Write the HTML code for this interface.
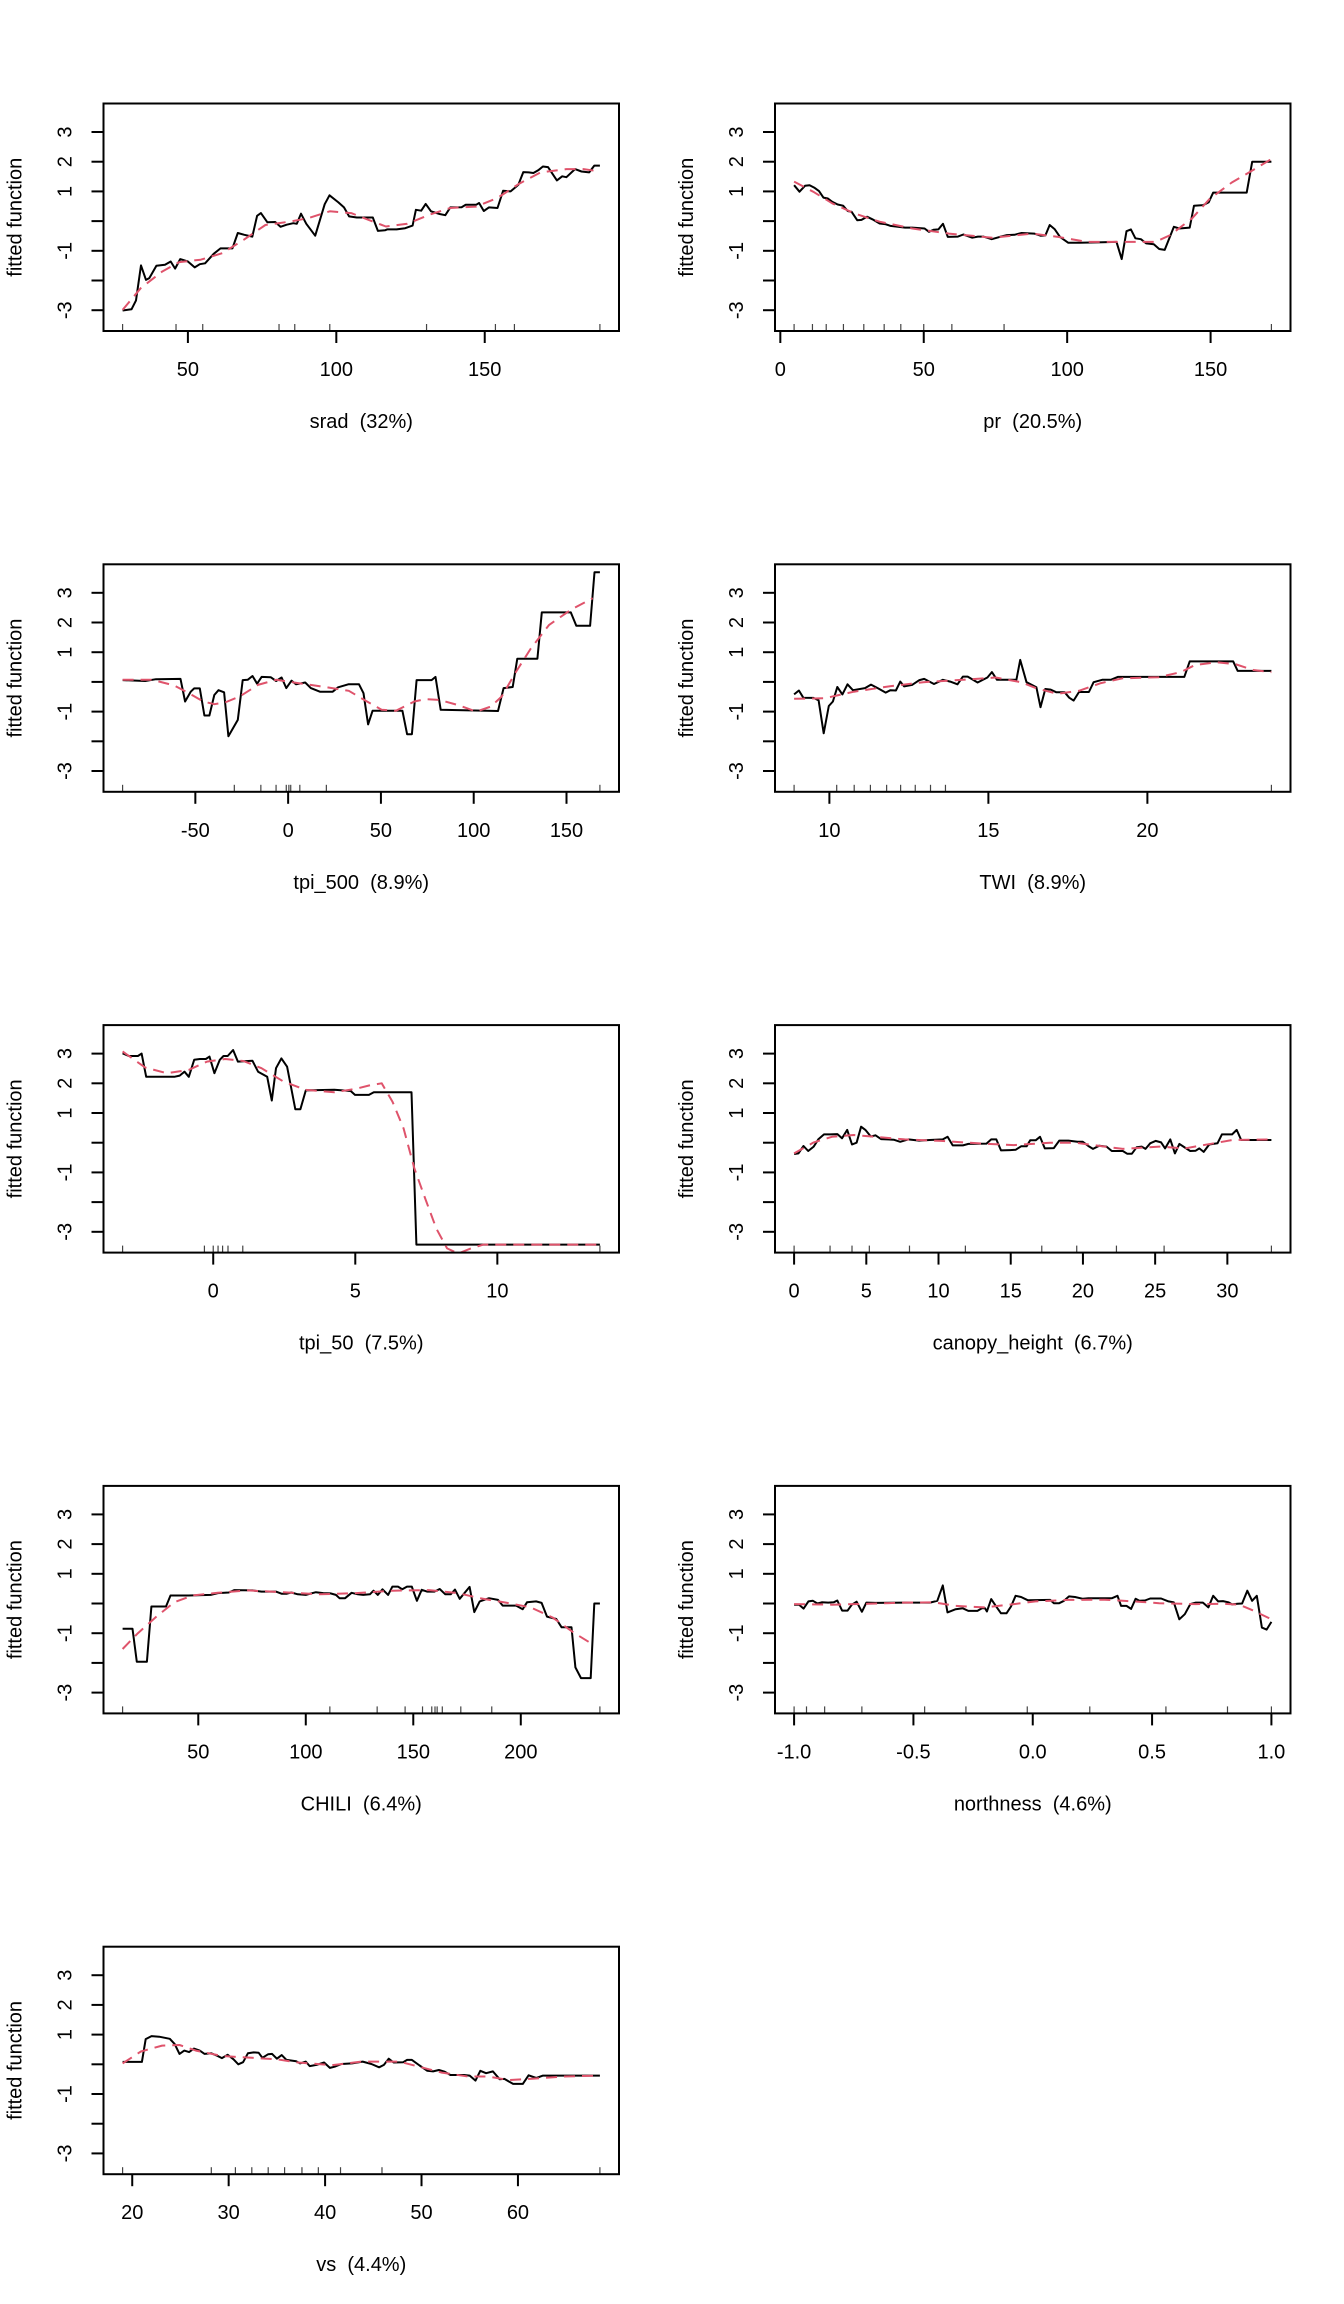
<!DOCTYPE html>
<html><head><meta charset="utf-8"><title>Partial dependence plots</title>
<style>
html,body{margin:0;padding:0;background:#fff;}
svg{display:block;font-family:"Liberation Sans",Arial,sans-serif;}
text{fill:#000;font-size:20px;}
</style></head>
<body>
<svg id="chart" width="1344" height="2304" viewBox="0 0 1344 2304" xmlns="http://www.w3.org/2000/svg">
<rect x="0" y="0" width="1344" height="2304" fill="#fff"/>
</svg>
<script>
// ---------- data ----------
const sradX=[28,31,32.5,34.2,35.9,37,39.4,42.3,44.2,45.7,47.4,50,52.3,54,55.8,58.7,61,65,66.8,69,71.7,73.3,74.6,76.8,79.4,81.2,83.3,85.5,86.7,88.1,89.9,92.9,96.1,97.7,100.7,102.6,104.3,106.9,112.3,114,116.4,117.1,120.3,123.2,125.7,126.8,128.6,130.1,131.9,134.8,136.7,138.4,142.2,143.6,147.1,148.1,149.7,151.4,154.3,156.2,158.7,161.3,163,164.8,166.4,168,169.6,171.3,174.3,176.1,177.5,180.4,182.6,185.2,186.9,188.8];
const sradY=[-3.01,-2.97,-2.67,-1.49,-1.98,-1.92,-1.5,-1.47,-1.36,-1.6,-1.28,-1.36,-1.56,-1.45,-1.42,-1.1,-0.92,-0.92,-0.4,-0.46,-0.52,0.18,0.27,-0.04,-0.03,-0.19,-0.12,-0.07,-0.09,0.25,-0.09,-0.49,0.57,0.87,0.63,0.46,0.16,0.12,0.12,-0.33,-0.31,-0.28,-0.28,-0.24,-0.15,0.38,0.35,0.58,0.33,0.24,0.2,0.46,0.47,0.55,0.55,0.61,0.34,0.46,0.44,1.02,1.0,1.22,1.65,1.64,1.62,1.71,1.84,1.82,1.37,1.51,1.48,1.75,1.67,1.64,1.87,1.87];
const sradSmX=[28,34.1,41.3,47.1,54.3,61.6,68.8,76.1,84.8,90.6,97.8,105,110.9,116.7,123.9,131.2,138.4,147.1,154.3,161.6,168.8,177.5,183.3,188.8];
const sradSmY=[-2.99,-2.26,-1.7,-1.38,-1.3,-1.08,-0.63,-0.13,-0.01,0.1,0.33,0.27,0.04,-0.18,-0.09,0.21,0.44,0.49,0.78,1.26,1.64,1.75,1.75,1.67];
const sradRug=[28,46,55,80.7,86,97.8,130.4,153.6,160,188.8];
const sradTicks=[50,100,150];
const sradTickLabels=["50","100","150"];

const prX=[4.8,6.7,8.6,10.2,11.8,13.5,15,16.6,18.1,20,21.9,23.5,24.9,26.8,28.3,30.2,32.1,34.6,36.5,38.4,41,43.5,46,50.3,51.8,53.5,55.1,56.7,58.4,61.9,63.8,66.9,68.9,70.8,73.7,76.5,79,81.6,84.1,88.5,90.7,92.4,93.9,95.6,97.5,100.4,104.2,112.4,117.2,119,120.7,122.2,123.8,125.7,127.6,130.2,132.1,134,137.2,139.1,142.7,144.2,147.4,149.3,150.9,162.6,164.5,171.2];
const prY=[1.21,0.99,1.19,1.21,1.13,1.01,0.79,0.76,0.65,0.56,0.52,0.34,0.31,0.03,0.04,0.15,0.06,-0.08,-0.1,-0.16,-0.19,-0.22,-0.22,-0.25,-0.36,-0.29,-0.28,-0.09,-0.53,-0.52,-0.45,-0.56,-0.52,-0.52,-0.61,-0.53,-0.47,-0.46,-0.4,-0.42,-0.49,-0.48,-0.13,-0.27,-0.53,-0.73,-0.73,-0.71,-0.7,-1.28,-0.34,-0.28,-0.58,-0.61,-0.75,-0.78,-0.94,-0.97,-0.19,-0.25,-0.22,0.52,0.54,0.63,0.96,0.96,2.0,2.0];
const prSmX=[4.8,11.8,18.1,25.8,34.6,46,58.8,73.9,87.9,96.8,107,118,130.8,135.9,143.5,149.8,157.4,163.8,171.2];
const prSmY=[1.33,0.97,0.6,0.26,-0.02,-0.25,-0.42,-0.56,-0.42,-0.53,-0.7,-0.7,-0.7,-0.47,0.09,0.76,1.3,1.66,2.09];
const prRug=[4.8,11.2,16,22,29.1,36.2,42,50,59.8,78,171.2];
const prTicks=[0,50,100,150];
const prTickLabels=["0","50","100","150"];

const tpi500X=[-89.2,-77,-71.2,-58,-55.5,-52.5,-50.6,-47.6,-45.1,-42.4,-39.8,-37.5,-34.5,-32.2,-27.1,-24.5,-21.8,-19.2,-16.7,-14.3,-9.4,-6.5,-3.5,-1,1.8,4.3,9.2,12.2,17.1,24,26.9,32.4,38.2,40.6,43.1,45.5,61.6,64.1,66.7,69.2,77.3,79.4,82.2,113.1,116.1,121,123.5,134.3,136.7,152.3,155.3,162.7,165.1,168];
const tpi500Y=[0.06,0.03,0.09,0.1,-0.66,-0.33,-0.22,-0.22,-1.13,-1.13,-0.44,-0.28,-0.35,-1.83,-1.28,0.06,0.07,0.2,-0.06,0.17,0.16,0.03,0.15,-0.21,0.04,-0.08,-0.02,-0.21,-0.33,-0.33,-0.18,-0.08,-0.08,-0.38,-1.43,-0.97,-0.97,-1.76,-1.76,0.06,0.06,0.17,-0.94,-0.98,-0.21,-0.17,0.78,0.78,2.34,2.34,1.89,1.89,3.69,3.69];
const tpi500SmX=[-89.2,-73.1,-61.4,-53.5,-45.7,-39.8,-33.9,-26.1,-16.3,-6.5,5.3,21,32.7,42.5,50.4,58.2,68,73.9,81.8,91.6,101.4,109.2,115.1,122.9,130.8,140.6,152.4,164.1];
const tpi500SmY=[0.07,0.07,-0.12,-0.38,-0.66,-0.75,-0.69,-0.49,-0.1,0.07,-0.04,-0.18,-0.3,-0.66,-0.94,-0.97,-0.66,-0.58,-0.61,-0.78,-1.0,-0.83,-0.49,0.35,1.13,1.92,2.43,2.82];
const tpi500Rug=[-89.2,-29,-14.7,-6.5,-1,0.4,1.4,6.3,20.6,168];
const tpi500Ticks=[-50,0,50,100,150];
const tpi500TickLabels=["-50","0","50","100","150"];

const twiX=[8.89,9.04,9.18,9.5,9.66,9.82,9.98,10.11,10.25,10.41,10.57,10.74,11.12,11.31,11.52,11.77,11.92,12.09,12.23,12.35,12.6,12.83,12.98,13.29,13.57,13.8,14.03,14.2,14.35,14.66,14.97,15.11,15.27,15.88,16,16.2,16.51,16.64,16.79,16.96,17.14,17.4,17.54,17.68,17.85,18.16,18.31,18.58,18.85,19.07,21.16,21.33,22.7,22.84,23.9];
const twiY=[-0.42,-0.29,-0.53,-0.54,-0.62,-1.73,-0.81,-0.66,-0.17,-0.42,-0.08,-0.28,-0.21,-0.09,-0.21,-0.36,-0.28,-0.29,0.01,-0.15,-0.1,0.06,0.1,-0.07,0.07,0.01,-0.08,0.18,0.18,-0.02,0.15,0.33,0.07,0.07,0.74,-0.01,-0.18,-0.85,-0.24,-0.26,-0.35,-0.35,-0.53,-0.63,-0.34,-0.34,-0.01,0.07,0.07,0.17,0.17,0.69,0.69,0.37,0.37];
const twiSmX=[8.89,9.86,10.77,11.8,12.95,14.2,15.23,16.03,16.49,17.17,17.85,18.54,19.22,20.36,21.05,21.5,22.19,22.76,23.33,23.9];
const twiSmY=[-0.57,-0.55,-0.33,-0.16,-0.01,0.07,0.15,-0.01,-0.21,-0.4,-0.3,-0.04,0.12,0.16,0.33,0.57,0.66,0.6,0.4,0.33];
const twiRug=[8.89,10.23,10.78,11.29,11.8,12.24,12.7,13.18,13.65,23.9];
const twiTicks=[10,15,20];
const twiTickLabels=["10","15","20"];

const tpi50X=[-3.19,-2.97,-2.65,-2.52,-2.36,-1.37,-1.18,-1.01,-0.86,-0.67,-0.47,-0.26,-0.13,0.04,0.23,0.36,0.51,0.7,0.87,1.38,1.58,1.9,2.06,2.21,2.4,2.6,2.89,3.07,3.26,4.26,4.84,4.99,5.48,5.65,6.98,7.15,13.61];
const tpi50Y=[3.01,2.92,2.92,3.0,2.22,2.22,2.26,2.39,2.22,2.79,2.82,2.82,2.9,2.34,2.79,2.92,2.92,3.12,2.73,2.76,2.39,2.22,1.42,2.51,2.84,2.56,1.13,1.13,1.76,1.78,1.74,1.61,1.61,1.7,1.7,-3.43,-3.43];
const tpi50SmX=[-3.19,-2.39,-1.63,-0.86,-0.22,0.42,1.06,1.7,2.47,3.24,4.26,4.99,5.54,5.93,6.31,6.7,7.08,7.46,7.85,8.23,8.62,9.07,9.51,13.61];
const tpi50SmY=[3.07,2.53,2.34,2.45,2.73,2.82,2.75,2.51,2.06,1.78,1.7,1.81,1.94,2.0,1.38,0.48,-0.87,-1.88,-2.89,-3.56,-3.73,-3.56,-3.43,-3.43];
const tpi50Rug=[-3.19,-0.31,0,0.17,0.33,0.52,1.04,13.61];
const tpi50Ticks=[0,5,10];
const tpi50TickLabels=["0","5","10"];

const canopyX=[0,0.3,0.65,0.98,1.36,1.69,2.07,2.49,3,3.32,3.68,4.01,4.33,4.64,4.94,5.31,5.64,6.02,6.9,7.35,7.91,8.66,9.4,10.3,10.63,10.98,11.69,12.07,13.32,13.65,14,14.33,14.96,15.34,15.72,16.1,16.35,16.73,17.03,17.36,17.98,18.36,18.99,19.62,19.99,20.37,20.7,21.13,21.63,22,22.76,23.06,23.39,23.72,24.07,24.33,24.66,25.03,25.41,25.69,26.05,26.37,26.68,27.05,27.43,27.81,28.06,28.36,28.74,29.32,29.62,30.33,30.65,30.96,33.05];
const canopyY=[-0.38,-0.36,-0.11,-0.28,-0.13,0.12,0.28,0.28,0.29,0.15,0.43,-0.06,0,0.54,0.43,0.21,0.25,0.12,0.1,0.03,0.11,0.07,0.09,0.11,0.2,-0.09,-0.09,-0.04,-0.03,0.11,0.11,-0.26,-0.25,-0.24,-0.12,-0.12,0.08,0.08,0.2,-0.19,-0.18,0.07,0.07,0.03,0.03,-0.11,-0.21,-0.1,-0.13,-0.28,-0.28,-0.37,-0.37,-0.15,-0.13,-0.21,-0.02,0.06,0.01,-0.19,0.11,-0.36,-0.04,-0.16,-0.28,-0.27,-0.19,-0.31,-0.06,-0.02,0.28,0.28,0.43,0.09,0.09];
const canopySmX=[0,1.36,2.62,4.13,5.64,7.66,10.18,12.7,15.21,17.73,19.5,21.51,22.77,25.29,27.05,29.07,30.33,33.05];
const canopySmY=[-0.36,0.01,0.2,0.26,0.2,0.11,0.06,-0.02,-0.08,0,0,-0.13,-0.21,-0.13,-0.19,-0.02,0.09,0.11];
const canopyRug=[0,2.49,4.01,5.21,7.99,11.86,17.15,19.57,22.32,25.62,33.05];
const canopyTicks=[0,5,10,15,20,25,30];
const canopyTickLabels=["0","5","10","15","20","25","30"];

const chiliX=[14.8,19.4,21.4,26.1,28.2,35,37.1,45.6,55.8,59.1,64.2,66.8,75.2,79.4,86.1,88.7,91.2,93.2,96.3,100,104.7,108.1,111.5,114,115.7,118.3,121.3,124.2,126.7,129.8,131.5,133.5,135.7,138.3,140.3,142.9,144.9,147.1,149.3,151.7,153.9,156.4,159.8,162.3,164.9,167.4,169.4,171.6,176.2,178.4,180.9,185.2,189.4,191.6,197.8,200.9,202.9,207.1,209.7,212.2,216.5,219,223.6,225.4,228,232.5,234.2,236.8];
const chiliY=[-0.85,-0.85,-1.96,-1.96,-0.1,-0.1,0.27,0.27,0.29,0.35,0.37,0.45,0.44,0.4,0.4,0.33,0.33,0.37,0.31,0.29,0.38,0.35,0.34,0.29,0.18,0.18,0.36,0.31,0.29,0.31,0.43,0.29,0.48,0.29,0.57,0.57,0.48,0.57,0.57,0.09,0.46,0.4,0.4,0.49,0.31,0.31,0.47,0.16,0.56,-0.29,0.07,0.18,0.12,-0.07,-0.07,-0.19,0.04,0.07,0.02,-0.44,-0.52,-0.8,-0.8,-2.15,-2.51,-2.51,0,0];
const chiliSmX=[14.8,21.9,30.4,38.8,47.3,59.1,72.7,89.6,106.4,123.4,140.3,157.2,170.8,180.9,194.5,204.6,214.8,225,233.8];
const chiliSmY=[-1.53,-1.0,-0.45,0.04,0.27,0.36,0.44,0.38,0.31,0.35,0.43,0.45,0.35,0.18,0.01,-0.13,-0.47,-1.0,-1.39];
const chiliRug=[14.8,111.2,133.2,146.2,154.3,158.6,160.1,161.1,163.5,172.1,186.5,236.8];
const chiliTicks=[50,100,150,200];
const chiliTickLabels=["50","100","150","200"];

const northX=[-1,-0.979,-0.96,-0.94,-0.921,-0.902,-0.884,-0.857,-0.834,-0.819,-0.799,-0.776,-0.758,-0.738,-0.716,-0.697,-0.659,-0.537,-0.43,-0.4,-0.377,-0.357,-0.323,-0.293,-0.27,-0.232,-0.213,-0.2,-0.192,-0.174,-0.155,-0.133,-0.11,-0.091,-0.072,-0.049,-0.021,0.073,0.088,0.111,0.131,0.152,0.177,0.21,0.233,0.332,0.355,0.37,0.393,0.412,0.431,0.447,0.47,0.492,0.538,0.569,0.591,0.614,0.637,0.66,0.683,0.713,0.736,0.756,0.777,0.797,0.82,0.835,0.858,0.877,0.899,0.919,0.939,0.96,0.98,1];
const northY=[-0.04,-0.04,-0.17,0.07,0.09,0,0.04,0.03,0.04,0.1,-0.24,-0.24,-0.04,0.06,-0.28,0.03,0.02,0.03,0.03,0.09,0.61,-0.3,-0.19,-0.16,-0.25,-0.25,-0.16,-0.16,-0.27,0.15,-0.08,-0.33,-0.33,-0.1,0.26,0.22,0.11,0.12,0.01,0.01,0.09,0.24,0.22,0.16,0.18,0.18,0.26,-0.08,-0.08,-0.18,0.16,0.09,0.1,0.17,0.17,0.07,0.04,-0.53,-0.36,-0.02,0.03,0.03,-0.13,0.26,0.07,0.08,0.04,-0.03,-0.01,0,0.43,0.09,0.26,-0.81,-0.88,-0.62];
const northSmX=[-1,-0.841,-0.689,-0.537,-0.415,-0.323,-0.2,-0.079,0.012,0.149,0.302,0.424,0.53,0.683,0.805,0.866,0.927,1.0];
const northSmY=[-0.02,-0.04,-0.01,0.03,0.04,-0.08,-0.13,-0.02,0.07,0.12,0.13,0.07,0.01,-0.02,-0.01,-0.04,-0.25,-0.53];
const northRug=[-1,-0.948,-0.872,-0.716,-0.453,-0.28,-0.023,0.239,0.558,0.816,1.0];
const northTicks=[-1,-0.5,0,0.5,1];
const northTickLabels=["-1.0","-0.5","0.0","0.5","1.0"];

const vsX=[19,21,21.4,22,22.8,23.9,24.4,24.9,25.4,25.9,26.4,27,27.5,28.2,28.8,29.3,29.9,30.5,31,31.5,32,32.6,33.1,33.5,34.1,34.5,35,35.5,36,37,37.4,38,38.4,39.1,39.9,40.5,41,41.7,42.8,43.9,44.8,45.6,46.1,46.6,47.1,48.1,48.5,49,49.8,50.6,51.2,51.8,52.4,53,54.4,55,55.6,56.1,56.7,57.4,58.1,58.6,59.5,60.5,61.1,61.9,62.6,68.5];
const vsY=[0.08,0.08,0.85,0.95,0.93,0.86,0.68,0.35,0.46,0.41,0.53,0.46,0.35,0.37,0.29,0.21,0.32,0.17,0,0.07,0.37,0.4,0.39,0.22,0.34,0.35,0.19,0.31,0.15,0.1,0.03,0.09,-0.06,-0.02,0.06,-0.12,-0.08,0.01,0.03,0.09,0.01,-0.1,-0.02,0.19,0.06,0.07,0.15,0.15,-0.04,-0.22,-0.24,-0.19,-0.25,-0.36,-0.36,-0.38,-0.55,-0.22,-0.3,-0.24,-0.5,-0.49,-0.66,-0.66,-0.37,-0.46,-0.38,-0.38];
const vsSmX=[19,20.9,23.1,24.9,26.6,29.3,32.4,35,37.2,40.7,43.8,47.7,49.5,52.1,54.8,56.9,59.1,61.7,64.8,68.5];
const vsSmY=[0.03,0.43,0.63,0.65,0.46,0.28,0.22,0.17,0.06,-0.03,0.09,0.09,-0.06,-0.28,-0.41,-0.41,-0.53,-0.48,-0.41,-0.38];
const vsRug=[19,28.2,30.7,32.4,34.1,35.8,37.6,39.3,41.6,45.9,68.5];
const vsTicks=[20,30,40,50,60];
const vsTickLabels=["20","30","40","50","60"];

const xLabels=["srad  (32%)","pr  (20.5%)","tpi_500  (8.9%)","TWI  (8.9%)","tpi_50  (7.5%)","canopy_height  (6.7%)","CHILI  (6.4%)","northness  (4.6%)","vs  (4.4%)"];
const yTicks=[3,2,1,0,-1,-2,-3];
const yTickLabels=["3","2","1","","-1","","-3"];

// ---------- drawing ----------
const panels=[
 {key:"srad",x:sradX,y:sradY,sx:sradSmX,sy:sradSmY,rug:sradRug,t:sradTicks,tl:sradTickLabels},
 {key:"pr",x:prX,y:prY,sx:prSmX,sy:prSmY,rug:prRug,t:prTicks,tl:prTickLabels},
 {key:"tpi-500",x:tpi500X,y:tpi500Y,sx:tpi500SmX,sy:tpi500SmY,rug:tpi500Rug,t:tpi500Ticks,tl:tpi500TickLabels},
 {key:"twi",x:twiX,y:twiY,sx:twiSmX,sy:twiSmY,rug:twiRug,t:twiTicks,tl:twiTickLabels},
 {key:"tpi-50",x:tpi50X,y:tpi50Y,sx:tpi50SmX,sy:tpi50SmY,rug:tpi50Rug,t:tpi50Ticks,tl:tpi50TickLabels},
 {key:"canopy-height",x:canopyX,y:canopyY,sx:canopySmX,sy:canopySmY,rug:canopyRug,t:canopyTicks,tl:canopyTickLabels},
 {key:"chili",x:chiliX,y:chiliY,sx:chiliSmX,sy:chiliSmY,rug:chiliRug,t:chiliTicks,tl:chiliTickLabels},
 {key:"northness",x:northX,y:northY,sx:northSmX,sy:northSmY,rug:northRug,t:northTicks,tl:northTickLabels},
 {key:"vs",x:vsX,y:vsY,sx:vsSmX,sy:vsSmY,rug:vsRug,t:vsTicks,tl:vsTickLabels}
];
const NS="http://www.w3.org/2000/svg";
const svg=document.getElementById("chart");
function mk(tag,attrs,parent){const e=document.createElementNS(NS,tag);for(const k in attrs)e.setAttribute(k,attrs[k]);(parent||svg).appendChild(e);return e;}
const YMAX=3.96,YMIN=-3.70,BOXH=227.5,ROWH=460.8,TOP0=103.5;
const COLL=[103.5,775],BOXW=515.5;

panels.forEach((p,i)=>{
  const col=i%2,row=Math.floor(i/2);
  const L=COLL[col],T=TOP0+row*ROWH,B=T+BOXH,R=L+BOXW;
  const dmin=Math.min(...p.rug),dmax=Math.max(...p.rug),pad=(dmax-dmin)*0.04;
  const x0=dmin-pad,x1=dmax+pad;
  const xs=v=>L+(v-x0)/(x1-x0)*BOXW;
  const ys=v=>T+(YMAX-v)/(YMAX-YMIN)*BOXH;
  const g=mk("g",{});
  
  
  const clip=mk("clipPath",{id:"clip"+i},g);
  mk("rect",{x:L,y:T,width:BOXW,height:BOXH},clip);
  // y axis ticks
  yTicks.forEach((v,j)=>{
    const yy=ys(v);
    const tk=mk("line",{x1:L-12,x2:L,y1:yy,y2:yy,stroke:"#000","stroke-width":2},g);
    
    
    if(yTickLabels[j]!==""){
      const tx=mk("text",{x:L-38,y:yy,"text-anchor":"middle","dominant-baseline":"central",transform:`rotate(-90 ${L-38} ${yy})`},g);
      tx.textContent=yTickLabels[j];
      
      
    }
  });
  const yt=mk("text",{x:L-88,y:(T+B)/2,"text-anchor":"middle","dominant-baseline":"central",transform:`rotate(-90 ${L-88} ${(T+B)/2})`},g);
  yt.textContent="fitted function";
  
  
  // x ticks
  p.t.forEach((v,j)=>{
    const xx=xs(v);
    const tk=mk("line",{x1:xx,x2:xx,y1:B,y2:B+12,stroke:"#000","stroke-width":2},g);
    
    
    const tx=mk("text",{x:xx,y:B+39,"text-anchor":"middle","dominant-baseline":"central"},g);
    tx.textContent=p.tl[j];
    
    
  });
  const xt=mk("text",{x:(L+R)/2,y:B+91,"text-anchor":"middle","dominant-baseline":"central","xml:space":"preserve"},g);
  xt.style.whiteSpace="pre";
  xt.textContent=xLabels[i];
  
  
  // rug
  p.rug.forEach(v=>{
    const xx=xs(v);
    const r=mk("line",{x1:xx,x2:xx,y1:B,y2:B-7,stroke:"#444","stroke-width":1.2},g);
    
    
  });
  // lines
  const n=Math.min(p.x.length,p.y.length);
  let d="";for(let k=0;k<n;k++)d+=(k?"L":"M")+xs(p.x[k]).toFixed(1)+","+ys(p.y[k]).toFixed(1);
  const ln=mk("path",{d:d,fill:"none",stroke:"#000","stroke-width":2,"stroke-linejoin":"round","clip-path":`url(#clip${i})`},g);
  
  
  const m=Math.min(p.sx.length,p.sy.length);
  let d2="";for(let k=0;k<m;k++)d2+=(k?"L":"M")+xs(p.sx[k]).toFixed(1)+","+ys(p.sy[k]).toFixed(1);
  const sm=mk("path",{d:d2,fill:"none",stroke:"#DF536B","stroke-width":2,"stroke-dasharray":"11 7","stroke-linejoin":"round","clip-path":`url(#clip${i})`},g);
  
  
  // box
  const bx=mk("rect",{x:L,y:T,width:BOXW,height:BOXH,fill:"none",stroke:"#000","stroke-width":2},g);
  
  
});
</script>
</body></html>
